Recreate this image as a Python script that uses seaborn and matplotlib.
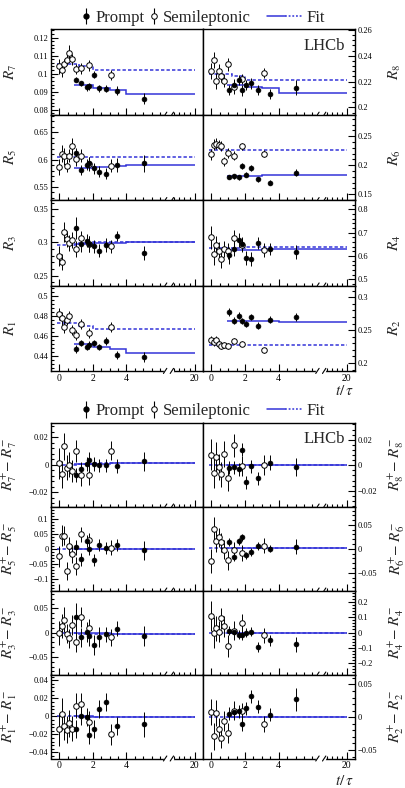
import numpy as np
import pandas as pd
import seaborn as sns
import matplotlib.pyplot as plt
from matplotlib.lines import Line2D
from matplotlib.legend_handler import HandlerTuple
from matplotlib.ticker import MultipleLocator, FixedLocator, FuncFormatter
import matplotlib.transforms as mtransforms

# decay time (t/tau) of the bins
x_prompt = [1.02, 1.32, 1.64, 1.80, 2.08, 2.38, 2.78, 3.46, 5.04]
x_semi = [0.0, 0.17, 0.30, 0.44, 0.58, 0.76, 0.98, 1.32, 1.80, 3.10]
fit_edges_prompt = [0.9, 2.0, 3.0, 4.0, 20]
fit_edges_semi = [-0.15, 1.2, 2.0, 20]
xticks = [0, 2, 4, 20]

# ---- R_i ----
r7_p = [0.0967, 0.0947, 0.0925, 0.0930, 0.0995, 0.0920, 0.0917, 0.0906, 0.0862]
r7_pe = [0.0015, 0.0015, 0.002, 0.002, 0.002, 0.002, 0.002, 0.0025, 0.003]
r7_s = [0.104, 0.102, 0.1053, 0.1077, 0.1117, 0.108, 0.1026, 0.103, 0.1046, 0.0993]
r7_se = [0.004, 0.004, 0.003, 0.003, 0.004, 0.003, 0.003, 0.003, 0.003, 0.003]
r7_fp = [0.0938, 0.0921, 0.0910, 0.0890]
r7_fs = [0.1056, 0.1045, 0.1018]

r5_p = [0.612, 0.581, 0.591, 0.593, 0.584, 0.578, 0.574, 0.590, 0.593]
r5_pe = [0.01, 0.01, 0.01, 0.012, 0.01, 0.01, 0.01, 0.012, 0.015]
r5_s = [0.586, 0.611, 0.606, 0.589, 0.607, 0.624, 0.601, 0.607, 0.592, 0.589]
r5_se = [0.015, 0.015, 0.015, 0.012, 0.012, 0.015, 0.012, 0.012, 0.012, 0.012]
r5_fp = [0.585, 0.586, 0.588, 0.590]
r5_fs = [0.604, 0.604, 0.604]

r3_p = [0.322, 0.298, 0.3025, 0.2975, 0.294, 0.2875, 0.296, 0.3096, 0.284]
r3_pe = [0.017, 0.012, 0.01, 0.012, 0.01, 0.01, 0.01, 0.008, 0.01]
r3_s = [0.279, 0.270, 0.3155, 0.305, 0.299, 0.304, 0.290, 0.306, 0.2975, 0.294]
r3_se = [0.015, 0.012, 0.015, 0.012, 0.012, 0.012, 0.012, 0.012, 0.012, 0.01]
r3_fp = [0.2975, 0.2985, 0.2995, 0.301]
r3_fs = [0.2965, 0.2985, 0.300]

r1_p = [0.447, 0.4527, 0.4493, 0.4507, 0.4527, 0.4493, 0.455, 0.4407, 0.439]
r1_pe = [0.004, 0.003, 0.003, 0.004, 0.003, 0.003, 0.004, 0.004, 0.005]
r1_s = [0.482, 0.4773, 0.4693, 0.476, 0.480, 0.466, 0.4613, 0.472, 0.4633, 0.4687]
r1_se = [0.006, 0.006, 0.006, 0.005, 0.005, 0.005, 0.005, 0.005, 0.005, 0.005]
r1_fp = [0.4515, 0.4495, 0.4470, 0.4433]
r1_fs = [0.4725, 0.4700, 0.4673]

r8_p = [0.2136, 0.2177, 0.2211, 0.2131, 0.2175, 0.2185, 0.2136, 0.2105, 0.2152]
r8_pe = [0.004, 0.004, 0.004, 0.004, 0.004, 0.004, 0.004, 0.004, 0.006]
r8_s = [0.2282, 0.2367, 0.2205, 0.2285, 0.2244, 0.2208, 0.2333, 0.2156, 0.2218, 0.2264]
r8_se = [0.006, 0.006, 0.006, 0.005, 0.005, 0.005, 0.005, 0.005, 0.004, 0.004]
r8_fp = [0.2172, 0.2160, 0.2148, 0.2115]
r8_fs = [0.2262, 0.2240, 0.2213]

r6_p = [0.180, 0.181, 0.179, 0.198, 0.184, 0.195, 0.1755, 0.170, 0.187]
r6_pe = [0.004, 0.004, 0.004, 0.005, 0.004, 0.005, 0.004, 0.004, 0.006]
r6_s = [0.2186, 0.2357, 0.2374, 0.2351, 0.233, 0.207, 0.221, 0.2166, 0.233, 0.220]
r6_se = [0.01, 0.01, 0.01, 0.008, 0.008, 0.008, 0.008, 0.008, 0.006, 0.006]
r6_fp = [0.1810, 0.1815, 0.1825, 0.1840]
r6_fs = [0.2254, 0.2254, 0.2254]

r4_p = [0.603, 0.631, 0.671, 0.653, 0.591, 0.586, 0.657, 0.631, 0.617]
r4_pe = [0.035, 0.03, 0.03, 0.03, 0.03, 0.03, 0.025, 0.025, 0.03]
r4_s = [0.681, 0.607, 0.646, 0.621, 0.589, 0.631, 0.621, 0.679, 0.646, 0.626]
r4_se = [0.05, 0.045, 0.04, 0.04, 0.04, 0.035, 0.035, 0.035, 0.03, 0.03]
r4_fp = [0.627, 0.628, 0.629, 0.631]
r4_fs = [0.636, 0.636, 0.637]

r2_p = [0.2774, 0.2647, 0.2723, 0.2637, 0.2596, 0.2698, 0.2571, 0.2662, 0.2698]
r2_pe = [0.006, 0.005, 0.005, 0.005, 0.005, 0.005, 0.005, 0.005, 0.006]
r2_s = [0.2348, 0.2318, 0.2348, 0.2297, 0.2256, 0.2277, 0.2256, 0.2333, 0.2297, 0.2195]
r2_se = [0.006, 0.006, 0.006, 0.005, 0.005, 0.005, 0.005, 0.005, 0.004, 0.004]
r2_fp = [0.2647, 0.2647, 0.2645, 0.2627]
r2_fs = [0.2272, 0.2272, 0.2272]

# ---- R_i^+ - R_i^- ----
d7_p = [-0.0072, -0.0029, 0.0007, 0.0036, 0.0007, -0.0005, -0.0005, -0.0007, 0.0024]
d7_pe = [0.005, 0.005, 0.005, 0.006, 0.005, 0.005, 0.005, 0.005, 0.007]
d7_s = [0.001, -0.007, 0.0134, -0.0022, 0.0, -0.0043, 0.010, -0.0072, -0.0077, 0.0103]
d7_se = [0.011, 0.01, 0.01, 0.009, 0.009, 0.008, 0.008, 0.008, 0.007, 0.007]
d7_fp = [0.0005, 0.0008, 0.0011, 0.0015]
d7_fs = [0.0, 0.0008, 0.0012]

d5_p = [0.005, -0.035, 0.025, 0.0, -0.0376, 0.0118, 0.0043, 0.014, -0.0054]
d5_pe = [0.025, 0.02, 0.02, 0.02, 0.02, 0.02, 0.02, 0.02, 0.03]
d5_s = [-0.0247, 0.0441, 0.0441, -0.072, 0.0097, -0.0183, -0.057, 0.0484, 0.029, 0.0043]
d5_se = [0.035, 0.035, 0.03, 0.03, 0.03, 0.03, 0.03, 0.025, 0.025, 0.025]
d5_fp = [0.0, 0.0, 0.001, 0.001]
d5_fs = [0.0, 0.0005, 0.001]

d3_p = [0.0318, -0.010, 0.0014, -0.0074, -0.0257, -0.0088, -0.0034, 0.0081, -0.0068]
d3_pe = [0.03, 0.02, 0.02, 0.02, 0.02, 0.02, 0.015, 0.015, 0.02]
d3_s = [0.0, 0.0135, 0.027, -0.002, -0.012, 0.016, -0.019, 0.0324, 0.0095, -0.0095]
d3_se = [0.025, 0.025, 0.025, 0.02, 0.02, 0.02, 0.02, 0.02, 0.018, 0.018]
d3_fp = [-0.001, -0.0015, -0.002, -0.0025]
d3_fs = [-0.001, -0.002, -0.0025]

d1_p = [-0.0146, 0.0, -0.0004, -0.0208, -0.0146, 0.008, 0.016, -0.0106, -0.0088]
d1_pe = [0.01, 0.01, 0.01, 0.01, 0.01, 0.01, 0.01, 0.01, 0.014]
d1_s = [-0.0146, 0.0026, -0.011, -0.015, -0.0077, -0.0139, 0.012, 0.0142, -0.0058, -0.020]
d1_se = [0.018, 0.018, 0.015, 0.015, 0.015, 0.014, 0.014, 0.012, 0.012, 0.012]
d1_fp = [0.0, -0.0003, -0.0006, -0.001]
d1_fs = [0.0, -0.0005, -0.001]

d8_p = [-0.002, -0.0015, -0.0031, 0.0121, -0.0134, -0.0008, -0.0103, 0.0021, -0.0015]
d8_pe = [0.005, 0.005, 0.005, 0.005, 0.005, 0.005, 0.005, 0.006, 0.007]
d8_s = [0.0083, -0.0059, 0.0065, -0.0013, -0.0072, 0.0088, -0.0098, 0.0156, -0.0005, 0.0003]
d8_se = [0.012, 0.012, 0.012, 0.01, 0.01, 0.01, 0.01, 0.009, 0.008, 0.008]
d8_fp = [0.0, 0.0, 0.0, 0.0]
d8_fs = [0.0, 0.0, 0.0]

d6_p = [0.0136, -0.017, 0.0156, 0.024, -0.0136, -0.0068, 0.006, 0.0007, 0.0048]
d6_pe = [0.008, 0.008, 0.008, 0.008, 0.008, 0.008, 0.008, 0.008, 0.016]
d6_s = [-0.0252, 0.0408, 0.0156, 0.0238, 0.0136, -0.002, -0.0238, -0.0034, -0.0088, 0.0068]
d6_se = [0.025, 0.025, 0.022, 0.02, 0.02, 0.02, 0.02, 0.018, 0.016, 0.016]
d6_fp = [0.002, 0.002, 0.002, 0.002]
d6_fs = [0.002, 0.002, 0.002]

d4_p = [0.0128, 0.0064, -0.015, -0.019, -0.002, 0.0064, -0.094, -0.051, -0.0766]
d4_pe = [0.03, 0.03, 0.03, 0.03, 0.03, 0.03, 0.03, 0.035, 0.05]
d4_s = [0.1085, -0.002, 0.0277, 0.0064, 0.0915, 0.0404, -0.0894, 0.0128, 0.0617, -0.019]
d4_se = [0.1, 0.1, 0.08, 0.07, 0.07, 0.07, 0.07, 0.06, 0.06, 0.05]
d4_fp = [0.0, 0.0, 0.0, 0.0]
d4_fs = [0.0, 0.0, 0.0]

d2_p = [0.005, 0.0086, 0.009, -0.011, 0.0136, 0.0318, 0.016, 0.0035, 0.0273]
d2_pe = [0.01, 0.01, 0.01, 0.01, 0.01, 0.01, 0.01, 0.01, 0.018]
d2_s = [0.0076, -0.0293, 0.006, -0.0187, -0.0313, -0.006, -0.0242, 0.0101, 0.009, -0.0101]
d2_se = [0.02, 0.02, 0.02, 0.018, 0.015, 0.015, 0.015, 0.015, 0.012, 0.012]
d2_fp = [0.0, 0.0, 0.0, 0.0]
d2_fs = [0.0, 0.0, 0.0]

BLUE = '#3434d8'

sns.set_theme(style='ticks')
plt.rcParams['font.family'] = 'serif'
plt.rcParams['font.serif'] = ['Liberation Serif', 'DejaVu Serif']
plt.rcParams['mathtext.fontset'] = 'stix'
plt.rcParams['axes.unicode_minus'] = True


def tx(v):
    # broken axis: everything past 6 is squeezed, 20 ends up at 8.05
    v = np.asarray(v, dtype=float)
    return np.where(v > 6, 6 + (v - 6) * 2.05 / 14, v)


def fmt(v, pos):
    s = f'{v:.3f}'.rstrip('0').rstrip('.')
    if s in ('-0', ''):
        s = '0'
    return s.replace('-', '\u2212')


def panel(ax, yp, ep, ys, es, fp, fs, ylim, major, minor, label, side, xlabels):
    ax.stairs(fs, tx(fit_edges_semi), baseline=None, color=BLUE, lw=1.1,
              ls=(0, (2.2, 1.4)))
    ax.stairs(fp, tx(fit_edges_prompt), baseline=None, color=BLUE, lw=1.1)
    ax.errorbar(tx(x_semi), ys, yerr=es, fmt='none', ecolor='black', elinewidth=0.7)
    ax.errorbar(tx(x_prompt), yp, yerr=ep, fmt='none', ecolor='black', elinewidth=0.7)
    sns.scatterplot(x=tx(x_semi), y=ys, ax=ax, marker='o', s=16, color='white',
                    edgecolor='black', linewidth=0.7, zorder=4)
    sns.scatterplot(x=tx(x_prompt), y=yp, ax=ax, marker='o', s=12, color='black',
                    edgecolor='black', linewidth=0.5, zorder=5)
    ax.set_xlim(-0.5, 8.55)
    ax.set_ylim(*ylim)
    ax.xaxis.set_major_locator(FixedLocator(tx(xticks)))
    ax.xaxis.set_minor_locator(FixedLocator(list(np.arange(-0.5, 6.01, 0.5)) +
                                            [6.85, 7.15, 7.45, 7.75]))
    ax.set_xticklabels([str(t) for t in xticks] if xlabels else [])
    ax.yaxis.set_major_locator(MultipleLocator(major))
    ax.yaxis.set_minor_locator(MultipleLocator(minor))
    ax.yaxis.set_major_formatter(FuncFormatter(fmt))
    ax.tick_params(axis='both', which='both', direction='in', width=0.8, colors='black')
    ax.tick_params(axis='both', which='major', length=5)
    ax.tick_params(axis='both', which='minor', length=2.5)
    ax.tick_params(axis='x', labelsize=7, pad=2)
    ax.tick_params(axis='y', labelsize=6, pad=1.5)
    if side == 'right':
        ax.yaxis.tick_right()
        ax.yaxis.set_label_position('right')
        ax.set_ylabel(label, fontsize=11, rotation=90)
        ax.yaxis.set_label_coords(1.205, 0.5)
    else:
        ax.set_ylabel(label, fontsize=11)
        ax.yaxis.set_label_coords(-0.21, 0.5)
    ax.set_xlabel('')
    for s in ax.spines.values():
        s.set_linewidth(1.0)
        s.set_color('black')
    # axis break marks
    trans = mtransforms.blended_transform_factory(ax.transData, ax.transAxes)
    ax.plot([6.3, 6.7], [0, 0], color='white', lw=2.5, transform=trans,
            clip_on=False, zorder=6)
    for xb in (6.3, 6.7):
        ax.plot([xb - 0.1, xb + 0.1], [-0.03, 0.03], color='black', lw=0.8,
                transform=trans, clip_on=False, zorder=7)


fig = plt.figure(figsize=(4.06, 7.88), dpi=100)
W, H = 406, 788


def rect(col, top, ph):
    left = 50.7 if col == 0 else 203
    return [left / W, 1 - (top + ph) / H, 152.3 / W, ph / H]


top_block = [
    ((r7_p, r7_pe, r7_s, r7_se, r7_fp, r7_fs), (0.0773, 0.1246), 0.01, 0.002, r'$R_{7}$'),
    ((r5_p, r5_pe, r5_s, r5_se, r5_fp, r5_fs), (0.526, 0.682), 0.05, 0.01, r'$R_{5}$'),
    ((r3_p, r3_pe, r3_s, r3_se, r3_fp, r3_fs), (0.235, 0.364), 0.05, 0.01, r'$R_{3}$'),
    ((r1_p, r1_pe, r1_s, r1_se, r1_fp, r1_fs), (0.4253, 0.51), 0.02, 0.004, r'$R_{1}$'),
]
top_block_r = [
    ((r8_p, r8_pe, r8_s, r8_se, r8_fp, r8_fs), (0.1943, 0.2605), 0.02, 0.004, r'$R_{8}$'),
    ((r6_p, r6_pe, r6_s, r6_se, r6_fp, r6_fs), (0.140, 0.287), 0.05, 0.01, r'$R_{6}$'),
    ((r4_p, r4_pe, r4_s, r4_se, r4_fp, r4_fs), (0.474, 0.84), 0.1, 0.02, r'$R_{4}$'),
    ((r2_p, r2_pe, r2_s, r2_se, r2_fp, r2_fs), (0.188, 0.318), 0.05, 0.01, r'$R_{2}$'),
]
bot_block = [
    ((d7_p, d7_pe, d7_s, d7_se, d7_fp, d7_fs), (-0.0304, 0.0308), 0.02, 0.004, r'$R^{+}_{7}\!-\,R^{-}_{7}$'),
    ((d5_p, d5_pe, d5_s, d5_se, d5_fp, d5_fs), (-0.1376, 0.14), 0.05, 0.01, r'$R^{+}_{5}\!-\,R^{-}_{5}$'),
    ((d3_p, d3_pe, d3_s, d3_se, d3_fp, d3_fs), (-0.0865, 0.087), 0.05, 0.01, r'$R^{+}_{3}\!-\,R^{-}_{3}$'),
    ((d1_p, d1_pe, d1_s, d1_se, d1_fp, d1_fs), (-0.0468, 0.0464), 0.02, 0.004, r'$R^{+}_{1}\!-\,R^{-}_{1}$'),
]
bot_block_r = [
    ((d8_p, d8_pe, d8_s, d8_se, d8_fp, d8_fs), (-0.0323, 0.0335), 0.02, 0.004, r'$R^{+}_{8}\!-\,R^{-}_{8}$'),
    ((d6_p, d6_pe, d6_s, d6_se, d6_fp, d6_fs), (-0.087, 0.0884), 0.05, 0.01, r'$R^{+}_{6}\!-\,R^{-}_{6}$'),
    ((d4_p, d4_pe, d4_s, d4_se, d4_fp, d4_fs), (-0.274, 0.274), 0.1, 0.02, r'$R^{+}_{4}\!-\,R^{-}_{4}$'),
    ((d2_p, d2_pe, d2_s, d2_se, d2_fp, d2_fs), (-0.063, 0.0652), 0.05, 0.01, r'$R^{+}_{2}\!-\,R^{-}_{2}$'),
]

blocks = [(29.3, 85.4, 391, top_block, top_block_r),
          (422.5, 84.0, 781, bot_block, bot_block_r)]
for y0, ph, ylab, left_list, right_list in blocks:
    for col, plist in ((0, left_list), (1, right_list)):
        for i, (d, ylim, major, minor, lab) in enumerate(plist):
            ax = fig.add_axes(rect(col, y0 + i * ph, ph))
            panel(ax, *d, ylim, major, minor, lab, 'left' if col == 0 else 'right', i == 3)
            if col == 1 and i == 0:
                ax.text(0.932, 0.80, 'LHCb', transform=ax.transAxes, ha='right',
                        va='center', fontsize=12)
    # legend for this block
    hp = ax.errorbar([], [], yerr=[], fmt='o', color='black', ms=3.5, elinewidth=0.8)
    hs = ax.errorbar([], [], yerr=[], fmt='o', color='black', mfc='white', ms=4,
                     mew=0.7, elinewidth=0.8)
    fig.legend([hp, hs], ['Prompt', 'Semileptonic'], loc='center',
               bbox_to_anchor=(166 / W, 1 - (y0 - 11.5) / H), ncol=2, frameon=False,
               fontsize=12, handlelength=0.6, handletextpad=0.25, columnspacing=0.25)
    fl = (Line2D([], [], color=BLUE, lw=1.1), Line2D([], [], color=BLUE, lw=1.1, ls=(0, (1.2, 1.2))))
    fig.legend([fl], ['Fit'], loc='center', bbox_to_anchor=(296 / W, 1 - (y0 - 11.5) / H),
               frameon=False, fontsize=12, handlelength=2.2, handletextpad=0.2,
               handler_map={tuple: HandlerTuple(ndivide=None, pad=0)})
    fig.text(344 / W, 1 - ylab / H, r'$t/\,\tau$', ha='center', va='center', fontsize=11)

fig.savefig('out.png', dpi=100)
